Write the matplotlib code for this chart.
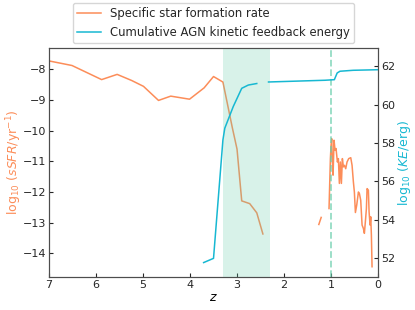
import numpy as np
import matplotlib
matplotlib.use('Agg')
import matplotlib.pyplot as plt

plt.rcParams['font.size'] = 8
plt.rcParams['text.color'] = '0.15'
plt.rcParams['xtick.color'] = '0.15'
plt.rcParams['ytick.color'] = '0.15'
plt.rcParams['axes.edgecolor'] = '0.3'
plt.rcParams['xtick.direction'] = 'in'
plt.rcParams['ytick.direction'] = 'in'

orange = '#fc8d59'
cyan = '#17b8d2'
mint = '#66cdaa'

# specific star formation rate, log10(sSFR / yr^-1); nan = gap
z_ssfr = [7.0, 6.51, 5.88, 5.55, 5.24, 4.99, 4.67, 4.41, 4.01, 3.70, 3.50, 3.30,
          3.10, 3.0, 2.90, 2.73, 2.58, 2.45,
          np.nan,
          1.26, 1.21,
          np.nan,
          1.043, 1.014, 1.0, 0.986, 0.972, 0.957, 0.936, 0.915, 0.894, 0.865,
          0.844, 0.823, 0.801, 0.780, 0.759, 0.738, 0.716, 0.688, 0.660, 0.624,
          0.581, 0.553, 0.525, 0.504, 0.482, 0.454, 0.418, 0.397, 0.369, 0.340,
          0.312, 0.291, 0.270, 0.248, 0.234, 0.206, 0.191, 0.170, 0.156, 0.142,
          0.128]
log_ssfr = [-7.72, -7.87, -8.33, -8.16, -8.36, -8.55, -9.01, -8.87, -8.97, -8.60, -8.23, -8.41,
            -9.9, -10.6, -12.29, -12.38, -12.68, -13.37,
            np.nan,
            -13.06, -12.83,
            np.nan,
            -12.54, -10.91, -10.48, -10.26, -11.02, -11.45, -10.31, -10.64, -10.58, -11.02,
            -10.91, -11.72, -11.02, -11.72, -10.91, -11.18, -11.13, -11.24, -11.02, -10.91,
            -10.88, -11.13, -11.67, -12.0, -12.67, -12.43, -12.0, -12.05, -12.27, -13.08,
            -13.19, -13.35, -12.97, -12.54, -11.89, -11.94, -12.65, -13.08, -12.81, -13.41,
            -14.44]

# cumulative AGN kinetic feedback energy, log10(KE / erg)
z_ke = [3.71, 3.50, 3.30, 3.26, 3.08, 2.90, 2.76, 2.58,
        np.nan,
        2.33, 1.13, 0.93, 0.87, 0.81, 0.53, 0.0]
log_ke = [51.76, 51.98, 58.16, 58.77, 59.9, 60.85, 61.02, 61.1,
          np.nan,
          61.18, 61.27, 61.3, 61.65, 61.74, 61.79, 61.82]

span_z = (2.3, 3.3)
line_z = 1.0

fig = plt.figure(figsize=(4.15, 3.10), dpi=100)
ax1 = fig.add_axes([0.118, 0.106, 0.793, 0.739])
ax2 = ax1.twinx()

l1, = ax1.plot(z_ssfr, log_ssfr, color=orange, lw=1.1, label='Specific star formation rate')
ax2.axvspan(span_z[0], span_z[1], color=mint, alpha=0.25, lw=0)
ax2.axvline(line_z, color=mint, alpha=0.7, ls='--', lw=1.3)
l2, = ax2.plot(z_ke, log_ke, color=cyan, lw=1.1, label='Cumulative AGN kinetic feedback energy')

ax1.set_xlim(7, 0)
ax1.set_ylim(-14.78, -7.3)
ax2.set_ylim(51.0, 62.95)
ax2.set_yticks([52, 54, 56, 58, 60, 62])
ax1.tick_params(axis='both', length=3, pad=2)
ax2.tick_params(axis='y', length=3, pad=2)

ax1.set_xlabel('$z$', labelpad=1, fontsize=9)
ax1.set_ylabel(r'log$_{10}$ ($sSFR$/yr$^{-1}$)', color=orange, labelpad=-1, fontsize=9)
ax2.set_ylabel(r'log$_{10}$ ($KE$/erg)', color=cyan, labelpad=1, fontsize=9)

ax1.legend(handles=[l1, l2], loc='lower center', bbox_to_anchor=(0.5, 1.005),
           frameon=True, edgecolor='0.8', borderaxespad=0.3, fontsize=8.4,
           handlelength=2.0, labelspacing=0.45)

fig.savefig('out.png', dpi=100)
